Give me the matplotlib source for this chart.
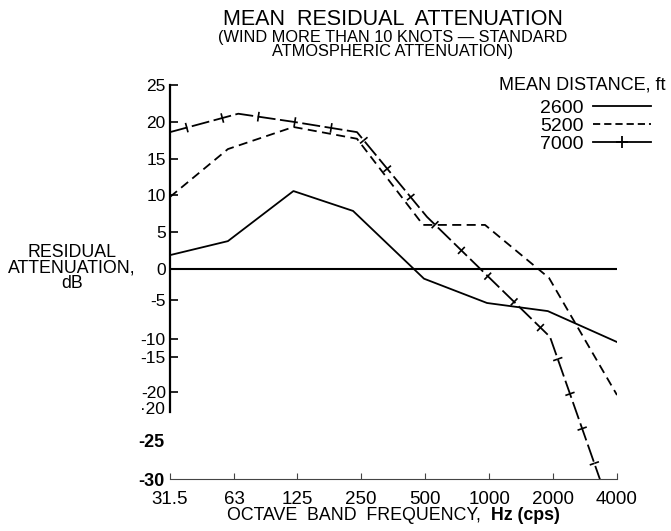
import matplotlib
matplotlib.use("Agg")
import matplotlib.pyplot as plt
import matplotlib.patheffects as pe
from matplotlib.lines import Line2D
from matplotlib.ticker import FixedLocator, NullLocator

plt.rcParams['font.family'] = ['Liberation Sans', 'DejaVu Sans']

### data ###

freq_ticks = [31.5, 63, 125, 250, 500, 1000, 2000, 4000]
freq_labels = ["31.5", "63", "125", "250", "500", "1000", "2000", "4000"]

# mean distance 2600 ft
f_2600 = [31.5, 59, 120, 229, 494, 978, 1890, 4000]
att_2600 = [1.9, 3.8, 10.6, 7.9, -1.3, -4.6, -5.7, -9.9]

# mean distance 5200 ft
f_5200 = [31.5, 59, 120, 239, 489, 957, 1915, 4000]
att_5200 = [9.8, 16.3, 19.3, 17.7, 6.0, 6.0, -1.2, -17.1]

# mean distance 7000 ft
f_7000 = [31.5, 66, 120, 239, 510, 1935, 3330]
att_7000 = [18.6, 21.1, 20.0, 18.6, 7.1, -9.2, -28.6]

dist_labels = ["2600", "5200", "7000"]

# y ticks as printed on the (uneven) original scale
ytick_vals = [25, 20, 15, 10, 5, 0, -4.2, -9.5, -12.0, -16.7]
ytick_labels = ["25", "20", "15", "10", "5", "0", "-5", "-10", "-15", "-20"]
# labels below the end of the axis line, no tick marks
extra_vals = [-19.0, -23.5, -28.9]
extra_labels = ["·20", "-25", "-30"]

### plot ###

fig = plt.figure(figsize=(6.71, 5.31), dpi=100)
ax = fig.add_axes([170 / 671, 52 / 531, 447 / 671, 394 / 531])

ax.set_xscale('log', base=2)
ax.set_xlim(31.5, 4000)
ax.set_ylim(-28.5, 25)

ax.axhline(0, color='black', lw=1.5, zorder=1)

ax.plot(f_2600, att_2600, color='black', lw=1.3)
ax.plot(f_5200, att_5200, color='black', lw=1.3, dashes=(5, 3))
# crosses along the 7000 ft line: short bars on both sides of the path
cross = [pe.Normal(),
         pe.TickedStroke(spacing=25, angle=90, length=0.14, linewidth=1.2),
         pe.TickedStroke(spacing=25, angle=-90, length=0.14, linewidth=1.2)]
ax.plot(f_7000, att_7000, color='black', lw=1.3, dashes=(10, 2.5),
        path_effects=cross)

# axes look
for s in ['top', 'right']:
    ax.spines[s].set_visible(False)
ax.spines['left'].set_linewidth(1.6)
ax.spines['left'].set_bounds(-19.4, 25)
ax.spines['bottom'].set_linewidth(0.8)
ax.spines['bottom'].set_color('#444444')

ax.xaxis.set_major_locator(FixedLocator(freq_ticks))
ax.xaxis.set_minor_locator(NullLocator())
ax.set_xticklabels(freq_labels)
ax.tick_params(axis='x', direction='in', length=4, width=0.8, pad=9,
               labelsize=13.5, color='#444444')

ax.yaxis.set_major_locator(FixedLocator(ytick_vals))
ax.set_yticklabels(ytick_labels)
ax.tick_params(axis='y', direction='in', length=6, width=1.2, pad=3,
               labelsize=12.5)

for v, lab in zip(extra_vals, extra_labels):
    plain = lab.startswith('·')
    ax.text(-0.012, v, lab, transform=ax.get_yaxis_transform(), ha='right',
            va='center', fontsize=12.5 if plain else 13,
            fontweight='normal' if plain else 'bold', clip_on=False)

# titles and axis labels
fig.text(393 / 671, 1 - 19.5 / 531, "MEAN  RESIDUAL  ATTENUATION", ha='center',
         va='center', fontsize=15.5)
fig.text(393 / 671, 1 - 44.5 / 531,
         "(WIND MORE THAN 10 KNOTS — STANDARD\nATMOSPHERIC ATTENUATION)",
         ha='center', va='center', fontsize=11.8, linespacing=0.92,
         multialignment='center')

fig.text(72 / 671, 1 - 268 / 531, "RESIDUAL\nATTENUATION,\ndB", ha='center',
         va='center', fontsize=12.8, linespacing=0.9, multialignment='center')

fig.text(481 / 671, 1 - 516 / 531, "OCTAVE  BAND  FREQUENCY,", ha='right',
         va='center', fontsize=12.8)
fig.text(491 / 671, 1 - 516 / 531, "Hz (cps)", ha='left', va='center',
         fontsize=12.8, fontweight='bold')

# legend: title as text, entries with label before the line sample
fig.text(582 / 671, 1 - 85 / 531, "MEAN DISTANCE, ft", ha='center',
         va='center', fontsize=13)
handles = [Line2D([], [], color='black', lw=1.3),
           Line2D([], [], color='black', lw=1.3, dashes=(4, 2.2)),
           Line2D([], [], color='black', lw=1.3, marker='+', markersize=9,
                  markeredgewidth=1.3)]
ax.legend(handles, dist_labels, loc='upper right',
          bbox_to_anchor=(651 / 671, 1 - 99 / 531),
          bbox_transform=fig.transFigure, frameon=False,
          markerfirst=False, numpoints=1, fontsize=14,
          handlelength=3.0, handletextpad=0.45,
          labelspacing=0.02, borderpad=0, borderaxespad=0)

fig.savefig("out.png", dpi=100)
